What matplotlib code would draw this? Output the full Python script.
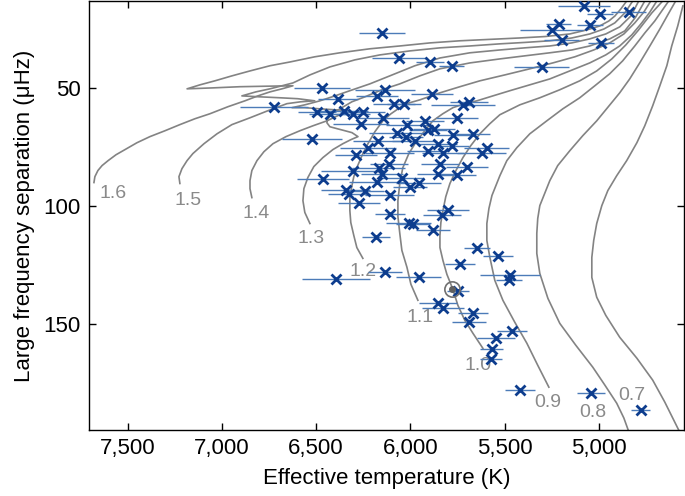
import matplotlib
matplotlib.use("Agg")
import matplotlib.pyplot as plt
from matplotlib.ticker import FuncFormatter

plt.rcParams['font.family'] = ['Liberation Sans', 'DejaVu Sans']

# observed stars: effective temperature (K), large separation (uHz), Teff error (K)
star_teff = [5080, 4995, 4841, 5212, 5249, 5048, 5196, 4989, 5302, 6151,
             6061, 5896, 5780, 6469, 6384, 6724, 6496, 6427, 6353, 6305,
             6252, 6262, 6178, 6135, 6087, 6034, 6146, 5923, 6018, 6071,
             6024, 5976, 5907, 5875, 6172, 6225, 6289, 6109, 6522, 6167,
             6114, 6151, 6305, 6045, 6003, 5955, 6178, 6464, 6342, 6326,
             6241, 6109, 6273, 6109, 5833, 5801, 6008, 5987, 5881, 6183,
             5647, 5886, 5721, 5690, 5753, 5774, 5668, 5907, 5854, 5827,
             5780, 5621, 5594, 5843, 5700, 5854, 5753, 5536, 5737, 6135,
             5955, 6395, 5472, 5477, 5748, 5854, 5827, 5668, 5690, 5462,
             5547, 5568, 5573, 5419, 5042, 4777]
star_dnu = [15.1, 18.5, 17.7, 22.8, 25.3, 23.2, 29.5, 30.8, 41.0, 26.6,
            37.2, 38.9, 40.6, 49.9, 54.5, 57.9, 60.0, 60.9, 59.6, 60.9,
            60.0, 65.1, 53.3, 50.7, 56.7, 56.7, 62.6, 63.9, 65.5, 68.9,
            70.6, 72.3, 67.7, 67.2, 72.3, 75.3, 78.3, 77.4, 71.5, 83.8,
            82.1, 86.3, 85.0, 88.0, 91.8, 90.5, 89.7, 88.4, 93.1, 94.8,
            93.5, 95.2, 98.6, 103.3, 103.7, 101.6, 107.1, 107.5, 110.1, 113.4,
            117.7, 52.4, 57.1, 55.8, 62.6, 69.8, 69.4, 76.6, 73.6, 77.4,
            74.4, 77.4, 75.3, 82.1, 83.3, 86.3, 86.7, 121.1, 124.9, 128.3,
            130.4, 131.2, 129.5, 131.6, 136.3, 141.4, 143.5, 145.6, 149.4, 153.3,
            156.2, 160.9, 165.1, 178.3, 179.5, 186.7]
star_teff_err = [138, 70, 93, 66, 167, 70, 93, 70, 146, 120,
                 143, 73, 66, 150, 105, 180, 100, 110, 130, 90,
                 120, 150, 110, 160, 110, 90, 140, 100, 110, 150,
                 90, 120, 100, 110, 130, 150, 110, 130, 160, 140,
                 100, 110, 170, 120, 90, 120, 150, 140, 130, 110,
                 100, 130, 110, 80, 100, 110, 120, 90, 90, 75,
                 70, 110, 170, 100, 110, 100, 90, 110, 100, 110,
                 90, 130, 120, 100, 110, 110, 100, 80, 80, 90,
                 120, 180, 160, 70, 60, 100, 110, 80, 90, 80,
                 100, 60, 60, 80, 75, 50]

sun_teff = 5777
sun_dnu = 135.1

# evolutionary tracks, one pair of arrays per mass (Msun)
track_masses = ['1.6', '1.5', '1.4', '1.3', '1.2', '1.1', '1.0', '0.9', '0.8', '0.7']
track_teff = {
    '1.6': [7679, 7674, 7658, 7636, 7604, 7562, 7514, 7451, 7382, 7302, 7223, 7143,
            7064, 6968, 6878, 6809, 6745, 6681, 6623, 6772, 6904, 7048, 7185, 7116,
            7037, 6947, 6851, 6745, 6639, 6507, 6374, 6215, 6056, 5896, 5737, 5578,
            5419, 5286, 5154, 5064, 4995, 4947, 4915, 4883, 4852, 4830],
    '1.5': [7223, 7228, 7212, 7185, 7154, 7095, 7026, 6947, 6851, 6756, 6655, 6581,
            6507, 6597, 6692, 6798, 6894, 6820, 6745, 6681, 6623, 6533, 6427, 6294,
            6162, 6003, 5843, 5684, 5525, 5393, 5260, 5143, 5048, 4973, 4915, 4862,
            4820, 4798],
    '1.4': [6841, 6851, 6851, 6841, 6814, 6777, 6729, 6660, 6586, 6517, 6443, 6374,
            6321, 6400, 6480, 6560, 6628, 6560, 6480, 6400, 6321, 6215, 6109, 5976,
            5843, 5684, 5525, 5393, 5260, 5143, 5048, 4963, 4889, 4830, 4788, 4767],
    '1.3': [6533, 6560, 6570, 6565, 6544, 6512, 6464, 6411, 6358, 6316, 6278, 6310,
            6347, 6390, 6427, 6443, 6438, 6411, 6374, 6310, 6241, 6151, 6056, 5950,
            5843, 5684, 5525, 5393, 5260, 5143, 5048, 4942, 4862, 4804, 4756, 4735],
    '1.2': [6252, 6284, 6300, 6316, 6321, 6321, 6310, 6300, 6284, 6257, 6225, 6188,
            6146, 6103, 6056, 6003, 5950, 5843, 5737, 5631, 5499, 5366, 5244, 5127,
            5027, 4942, 4867, 4809, 4761, 4724, 4698],
    '1.1': [5960, 5997, 6018, 6045, 6056, 6066, 6066, 6056, 6040, 6008, 5965, 5923,
            5881, 5828, 5774, 5711, 5647, 5562, 5472, 5366, 5260, 5154, 5048, 4963,
            4889, 4825, 4772, 4729, 4692, 4666],
    '1.0': [5615, 5668, 5711, 5748, 5774, 5806, 5827, 5843, 5843, 5838, 5827, 5812,
            5790, 5758, 5721, 5679, 5631, 5578, 5525, 5419, 5313, 5207, 5101, 5011,
            4931, 4857, 4793, 4719, 4661, 4629],
    '0.9': [5265, 5324, 5382, 5446, 5509, 5552, 5578, 5594, 5594, 5583, 5567, 5525,
            5488, 5435, 5366, 5276, 5191, 5101, 5021, 4942, 4873, 4809, 4756, 4703,
            4629, 4602],
    '0.8': [4825, 4867, 4905, 4968, 5032, 5122, 5207, 5270, 5313, 5329, 5329, 5324,
            5313, 5260, 5218, 5154, 5085, 5011, 4889, 4836, 4783, 4729, 4676, 4634,
            4592, 4576],
    '0.7': [4549, 4581, 4650, 4714, 4798, 4889, 4963, 5011, 5037, 5037, 5027, 5011,
            4984, 4952, 4905, 4852, 4798, 4756, 4714, 4676, 4639, 4613, 4581, 4554],
}
track_dnu = {
    '1.6': [90.1, 87.6, 85.0, 82.9, 80.8, 78.3, 76.1, 73.2, 70.6, 68.1, 65.5, 63.0,
            60.9, 57.9, 55.4, 53.3, 51.6, 50.3, 49.0, 49.2, 49.4, 49.9, 50.3, 48.6,
            46.9, 44.8, 42.7, 40.5, 38.9, 36.7, 35.0, 33.3, 32.1, 30.8, 29.9, 29.3,
            28.7, 28.1, 27.0, 25.3, 23.6, 21.5, 19.4, 16.4, 13.0, 10.0],
    '1.5': [90.5, 87.6, 84.2, 80.8, 77.8, 73.6, 69.4, 65.5, 62.6, 59.6, 56.6, 55.8,
            55.4, 54.5, 54.1, 53.7, 53.3, 51.6, 50.3, 49.0, 47.8, 44.4, 41.0, 38.0,
            35.9, 34.2, 32.9, 32.1, 31.2, 30.6, 29.9, 28.7, 27.0, 24.9, 22.3, 18.1,
            13.0, 10.0],
    '1.4': [96.5, 92.7, 89.3, 85.0, 80.8, 77.0, 73.6, 70.6, 68.1, 66.0, 63.9, 61.3,
            59.6, 59.2, 58.8, 58.3, 58.3, 57.1, 55.4, 53.3, 51.1, 48.2, 44.8, 40.5,
            37.2, 35.0, 33.8, 32.9, 32.1, 30.8, 29.1, 27.0, 24.0, 19.4, 13.0, 10.0],
    '1.3': [107.5, 102.8, 97.8, 92.7, 88.0, 83.3, 79.5, 76.1, 73.6, 71.9, 70.6, 68.9,
            68.1, 67.2, 66.4, 64.7, 63.0, 60.5, 58.8, 55.8, 53.7, 50.7, 48.2, 44.8,
            41.8, 39.3, 37.6, 36.3, 35.0, 33.8, 32.1, 29.1, 25.7, 19.8, 13.0, 10.0],
    '1.2': [122.3, 117.7, 112.6, 107.1, 102.0, 96.5, 91.4, 87.6, 83.8, 78.7, 73.6, 68.5,
            63.9, 60.9, 58.3, 56.2, 55.0, 52.0, 49.4, 46.9, 44.4, 41.8, 39.3, 36.7,
            33.8, 30.8, 27.0, 22.3, 17.7, 13.0, 10.0],
    '1.1': [140.1, 133.3, 126.1, 118.9, 111.7, 104.5, 97.8, 90.5, 83.8, 77.8, 72.3, 68.1,
            63.9, 60.9, 58.3, 56.6, 55.4, 53.3, 51.1, 48.6, 46.1, 42.7, 39.3, 35.9,
            32.1, 27.4, 22.3, 17.7, 13.0, 10.0],
    '1.0': [160.5, 154.1, 148.6, 142.2, 135.5, 129.1, 123.2, 117.7, 112.6, 107.1, 102.0, 96.1,
            90.5, 85.0, 79.5, 74.4, 69.4, 65.1, 61.3, 57.1, 54.1, 50.7, 46.9, 42.7,
            37.6, 31.7, 25.7, 18.1, 13.0, 10.0],
    '0.9': [177.0, 167.7, 158.3, 149.4, 140.1, 131.6, 121.9, 114.7, 107.5, 101.1, 95.6, 87.2,
            80.8, 75.3, 69.4, 63.9, 58.8, 54.1, 49.0, 43.9, 38.4, 32.1, 26.6, 21.5,
            13.0, 10.0],
    '0.8': [199.4, 190.1, 183.8, 176.1, 168.5, 159.2, 149.9, 139.3, 128.7, 120.2, 111.7, 105.4,
            99.9, 89.3, 82.9, 76.6, 70.2, 63.9, 52.0, 46.1, 39.3, 32.1, 24.9, 18.9,
            13.0, 10.0],
    '0.7': [199.4, 194.4, 183.3, 174.0, 164.7, 155.8, 146.5, 138.8, 130.4, 121.9, 114.7, 107.5,
            99.9, 93.5, 87.2, 80.8, 73.2, 66.0, 57.5, 49.0, 40.5, 32.1, 23.6, 15.1],
}
# where each mass label sits (Teff, dnu)
label_teff = [7578, 7180, 6820, 6528, 6252, 5950, 5642, 5270, 5032, 4825]
label_dnu = [94.8, 97.8, 103.3, 113.9, 127.8, 147.3, 167.7, 183.3, 187.6, 180.4]

fig = plt.figure(figsize=(6.85, 4.96), dpi=100)
ax = fig.add_axes([0.130, 0.133, 0.8685, 0.865])

track_color = '#838383'
for m in track_masses:
    ax.plot(track_teff[m], track_dnu[m], color=track_color, lw=1.2, zorder=1,
            solid_joinstyle='round')
for m, tx, ty in zip(track_masses, label_teff, label_dnu):
    ax.text(tx, ty, m, color='#8a8a8a', fontsize=14, ha='center', va='center', zorder=2)

ax.errorbar(star_teff, star_dnu, xerr=star_teff_err, fmt='none',
            ecolor='#4c7bb8', elinewidth=1.0, capsize=0, zorder=3)
ax.plot(star_teff, star_dnu, 'x', color='#0d3d8e', ms=6.5, mew=2.0, zorder=4)

# the Sun
ax.plot(sun_teff, sun_dnu, 'o', ms=11, mfc='none', mec='#707070', mew=1.2, zorder=5)
ax.plot(sun_teff, sun_dnu, 'o', ms=4, color='#606060', zorder=5)

ax.set_xlim(7705, 4548)
ax.set_ylim(195.2, 13.0)
ax.set_xticks([7500, 7000, 6500, 6000, 5500, 5000])
ax.set_yticks([50, 100, 150])
ax.xaxis.set_major_formatter(FuncFormatter(lambda v, p: f"{int(v):,}"))
ax.tick_params(direction='in', top=True, right=True, length=5, width=1,
               labelsize=16, pad=6)
ax.set_xlabel('Effective temperature (K)', fontsize=16, labelpad=6)
ax.set_ylabel('Large frequency separation (\u03bcHz)', fontsize=16, labelpad=6)
for s in ax.spines.values():
    s.set_linewidth(1.0)

fig.savefig('out.png', dpi=100)
